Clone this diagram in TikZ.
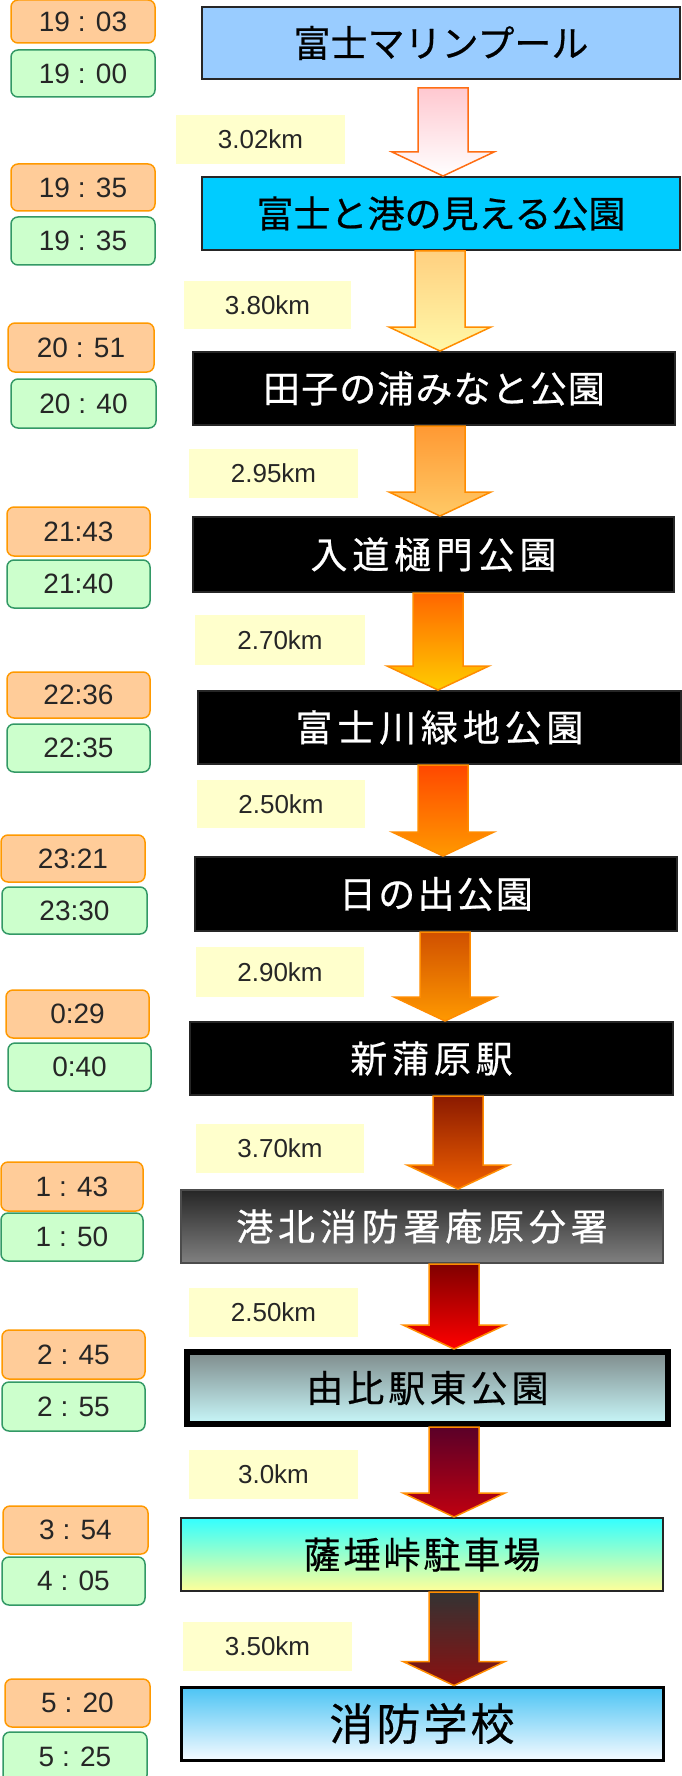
\documentclass[tikz,border=0pt]{standalone}
\usepackage{fontspec}
\newfontfamily\jpfont[FakeBold=0.6]{Noto Sans CJK JP}
\newfontfamily\numfont{Liberation Sans}
\usetikzlibrary{calc}
\definecolor{orangeF}{HTML}{FFCC99}
\definecolor{orangeB}{HTML}{FF9900}
\definecolor{greenF}{HTML}{CCFFCC}
\definecolor{greenB}{HTML}{339966}
\definecolor{distF}{HTML}{FFFFCC}
\definecolor{arrB}{HTML}{FF8C00}
\tikzset{
  timeO/.style={draw=orangeB, fill=orangeF, line width=1.5pt, rounded corners=7pt, inner sep=0pt,
    font=\numfont\fontsize{28}{30}\selectfont, text=black!85},
  timeG/.style={timeO, draw=greenB, fill=greenF},
  dist/.style={fill=distF, inner sep=0pt, font=\numfont\fontsize{26}{28}\selectfont, text=black!85},
  stationbox/.style={draw=black!85, line width=2pt, inner sep=0pt,
    font=\jpfont\fontsize{37}{40}\selectfont},
  darkbox/.style={stationbox, fill=black, text=white},
  blockarr/.style={draw=arrB, line width=1.5pt, line join=miter},
}
\newcommand\LS[2]{{\addfontfeature{LetterSpace=#1}#2}}
% box from corners: #1 style, #2 name, #3 x1, #4 y1, #5 x2, #6 y2, #7 text
\newcommand\boxnode[7]{%
  \node[#1, minimum width={(#5-#3)*1pt}, minimum height={(#6-#4)*1pt}, anchor=center]
    (#2) at ({(#3+#5)/2},{(#4+#6)/2}) {#7};}
% #1 centre x, #2 from node, #3 to node, #4 colours, #5 start gap
\newcommand\blockarrow[5]{%
  \draw[blockarr,#4] let \p1=(#2.south), \p2=(#3.north) in
    ({#1pt-25pt},{\y1-#5pt}) -- ({#1pt+25pt},{\y1-#5pt}) -- ({#1pt+25pt},{\y2+24pt})
    -- ({#1pt+51pt},{\y2+24pt}) -- (#1pt,\y2) -- ({#1pt-51pt},{\y2+24pt})
    -- ({#1pt-25pt},{\y2+24pt}) -- cycle;}
\begin{document}
\begin{tikzpicture}[x=1pt,y=-1pt]
\useasboundingbox (0,0) rectangle (681,1776);

% station boxes
\boxnode{stationbox, fill={rgb,255:red,153;green,204;blue,255}}{b1}{202}{7}{680}{79}{\LS{0}{富士マリンプール}}
\boxnode{stationbox, fill={rgb,255:red,0;green,204;blue,255}}{b2}{202}{177}{680}{250}{\LS{0}{富士と港の見える公園}}
\boxnode{darkbox}{b3}{193}{352}{675}{425}{\LS{3}{田子の浦みなと公園}}
\boxnode{darkbox}{b4}{193}{517}{674}{592}{\LS{13}{入道樋門公園}}
\boxnode{darkbox}{b5}{198}{691}{681}{764}{\LS{13}{富士川緑地公園}}
\boxnode{darkbox}{b6}{195}{857}{677}{931}{\LS{6}{日の出公園}}
\boxnode{darkbox}{b7}{190}{1022}{673}{1095}{\LS{13}{新蒲原駅}}
\boxnode{stationbox, draw=black!70, top color={rgb,255:red,38;green,38;blue,38}, bottom color={rgb,255:red,128;green,128;blue,128}, text=white}{b8}{181}{1190}{663}{1263}{\LS{13}{港北消防署庵原分署}}
\boxnode{stationbox, draw=black, line width=6pt, top color={rgb,255:red,127;green,140;blue,140}, bottom color={rgb,255:red,200;green,248;blue,250}}{b9}{187}{1352}{668}{1424}{\LS{11}{由比駅東公園}}
\boxnode{stationbox, top color={rgb,255:red,51;green,255;blue,255}, bottom color={rgb,255:red,255;green,255;blue,153}}{b10}{181}{1518}{663}{1591}{\LS{8}{薩埵峠駐車場}}
\boxnode{stationbox, draw=black, line width=3pt, top color={rgb,255:red,76;green,196;blue,244}, bottom color={rgb,255:red,244;green,250;blue,255}, font=\jpfont\fontsize{44}{48}\selectfont}{b11}{181}{1687}{663}{1760}{\LS{7}{消防学校}}

% block arrows
\blockarrow{443}{b1}{b2}{top color={rgb,255:red,255;green,200;blue,208}, bottom color=white, draw={rgb,255:red,255;green,110;blue,20}}{8}
\blockarrow{440}{b2}{b3}{top color={rgb,255:red,255;green,208;blue,128}, bottom color={rgb,255:red,255;green,248;blue,168}}{0}
\blockarrow{440}{b3}{b4}{top color={rgb,255:red,255;green,153;blue,51}, bottom color={rgb,255:red,255;green,201;blue,102}}{0}
\blockarrow{438}{b4}{b5}{top color={rgb,255:red,255;green,102;blue,0}, bottom color={rgb,255:red,255;green,204;blue,0}}{0}
\blockarrow{443}{b5}{b6}{top color={rgb,255:red,255;green,72;blue,0}, bottom color={rgb,255:red,255;green,153;blue,0}}{0}
\blockarrow{445}{b6}{b7}{top color={rgb,255:red,208;green,80;blue,0}, bottom color={rgb,255:red,255;green,153;blue,0}}{0}
\blockarrow{458}{b7}{b8}{top color={rgb,255:red,139;green,26;blue,0}, bottom color={rgb,255:red,240;green,96;blue,0}}{0}
\blockarrow{454}{b8}{b9}{top color={rgb,255:red,128;green,0;blue,0}, bottom color={rgb,255:red,255;green,0;blue,0}}{0}
\blockarrow{454}{b9}{b10}{top color={rgb,255:red,90;green,0;blue,40}, bottom color={rgb,255:red,192;green,0;blue,16}}{0}
\blockarrow{454}{b10}{b11}{top color={rgb,255:red,51;green,51;blue,51}, bottom color={rgb,255:red,139;green,16;blue,16}}{0}

% distance labels
\boxnode{dist}{d1}{176}{115}{345}{164}{3.02km}
\boxnode{dist}{d2}{184}{281}{351}{329}{3.80km}
\boxnode{dist}{d3}{189}{449}{358}{498}{2.95km}
\boxnode{dist}{d4}{195}{615}{365}{665}{2.70km}
\boxnode{dist}{d5}{197}{780}{365}{828}{2.50km}
\boxnode{dist}{d6}{196}{947}{364}{997}{2.90km}
\boxnode{dist}{d7}{196}{1124}{364}{1173}{3.70km}
\boxnode{dist}{d8}{189}{1288}{358}{1337}{2.50km}
\boxnode{dist}{d9}{189}{1450}{358}{1499}{3.0km}
\boxnode{dist}{d10}{183}{1622}{352}{1671}{3.50km}

% time boxes
\boxnode{timeO}{o1}{11}{0}{155}{43}{19 : 03}
\boxnode{timeG}{g1}{11}{50}{155}{97}{19 : 00}
\boxnode{timeO}{o2}{11}{164}{155}{211}{19 : 35}
\boxnode{timeG}{g2}{11}{217}{155}{265}{19 : 35}
\boxnode{timeO}{o3}{8}{323}{154}{372}{20 : 51}
\boxnode{timeG}{g3}{11}{379}{156}{428}{20 : 40}
\boxnode{timeO}{o4}{7}{507}{150}{556}{21:43}
\boxnode{timeG}{g4}{7}{560}{150}{608}{21:40}
\boxnode{timeO}{o5}{7}{672}{150}{718}{22:36}
\boxnode{timeG}{g5}{7}{724}{150}{772}{22:35}
\boxnode{timeO}{o6}{1}{835}{145}{882}{23:21}
\boxnode{timeG}{g6}{2}{887}{147}{934}{23:30}
\boxnode{timeO}{o7}{6}{990}{149}{1038}{0:29}
\boxnode{timeG}{g7}{8}{1043}{151}{1091}{0:40}
\boxnode{timeO}{o8}{1}{1162}{143}{1211}{1 : 43}
\boxnode{timeG}{g8}{1}{1213}{143}{1261}{1 : 50}
\boxnode{timeO}{o9}{2}{1330}{145}{1379}{2 : 45}
\boxnode{timeG}{g9}{2}{1382}{145}{1431}{2 : 55}
\boxnode{timeO}{o10}{3}{1506}{148}{1554}{3 : 54}
\boxnode{timeG}{g10}{2}{1557}{145}{1605}{4 : 05}
\boxnode{timeO}{o11}{5}{1679}{150}{1727}{5 : 20}
\boxnode{timeG}{g11}{3}{1732}{147}{1782}{5 : 25}
\end{tikzpicture}
\end{document}
